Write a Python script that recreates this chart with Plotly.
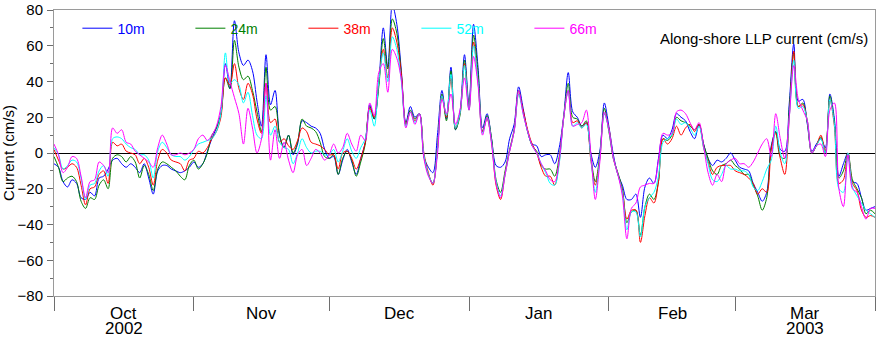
import pandas as pd
import plotly.graph_objects as go

# Daily along-shore current (cm/s) at five depths, 1 Oct 2002 - 1 Apr 2003
start_date = "2002-10-01"

u_10m = [
    -6, -8, -16, -19, -15, -17, -25, -26, -22, -24, -14, -13, -9, -4, -3, -6, -8, -6, -8, -11, -6, -14, -23, -10, -7, -7, -9, -10, -11, -10, -8,
    -5, -8, -6, 1, 8, 14, 22, 50, 36, 74, 56, 49, 52, 46, 29, 15, 55, 27, 35, 10, 3, 10, -1, 5, 18, 17, 15, 14, 11, 2,
    -3, -2, -12, -4, 2, -5, -12, -3, 6, 27, 19, 39, 70, 48, 83, 72, 46, 17, 26, 20, 22, -2, -8, -11, 10, 35, 19, 48, 13, 23, 55,
    27, 72, 48, 14, 22, 8, -7, -8, -5, 8, 16, 37, 25, 12, 5, 4, -2, -1, -1, -6, 3, 21, 45, 23, 20, 15, 17, 0, -8, 1, 28,
    15, -1, -12, -18, -26, -26, -23, -36, -19, -14, -17, -3, 10, 8, 13, 22, 20, 18, 12, 8, 16, 5, -3, -7, -4, -5, -3, 0,
    -4, -8, -9, -10, -17, -22, -27, -22, 4, 12, 2, 1, 28, 61, 29, 30, 16, 1, 5, 8, 3, 33, 19, -13, -6, 0, -16, -17, -25, -32, -31, -30,
]
u_24m = [
    -2, -8, -16, -14, -13, -16, -27, -31, -25, -26, -18, -15, -20, -3, -1, -2, -5, -2, -5, -14, -7, -12, -21, -9, -5, -6, -8, -10, -13, -15, -7,
    -4, -9, -6, 0, 10, 14, 22, 42, 36, 63, 48, 41, 43, 35, 23, 12, 48, 24, 26, 10, 3, 10, 0, 6, 19, 15, 14, 12, 6, -2,
    -3, -1, -12, -3, 1, -4, -13, -5, 5, 26, 19, 37, 64, 47, 75, 67, 44, 16, 24, 19, 22, -2, -12, -17, 2, 33, 18, 46, 13, 21, 52,
    25, 66, 45, 12, 21, 8, -15, -22, -10, 2, 13, 35, 23, 12, 4, 1, -7, -9, -9, -13, -2, 20, 39, 20, 19, 15, 18, -2, -16, -1, 25,
    12, -3, -11, -20, -39, -33, -32, -46, -30, -23, -26, -16, 8, 7, 10, 20, 18, 17, 15, 13, 16, 5, -3, -10, -12, -7, -6, -4,
    -7, -9, -12, -12, -18, -24, -32, -25, 3, 12, -2, -3, 25, 56, 26, 28, 17, 0, 4, 9, 0, 32, 17, -14, -10, 0, -15, -20, -25, -34, -32, -34,
]
u_38m = [
    2, -4, -9, -8, -6, -8, -18, -29, -20, -19, -12, -10, -17, 6, 4, 5, 1, 0, -1, -6, -3, -8, -18, -4, 2, 0, -4, -5, -6, -10, -4,
    -3, 1, 0, 3, 8, 12, 20, 42, 38, 50, 36, 30, 39, 33, 19, 11, 39, 17, 19, 6, 8, 4, 2, 7, 14, 12, 6, 5, 4, 2,
    -1, -1, -9, 0, 1, -3, -9, -3, 6, 25, 20, 40, 58, 42, 70, 62, 44, 16, 23, 18, 22, 0, -11, -18, 2, 32, 20, 42, 14, 22, 50,
    24, 62, 40, 12, 19, 6, -18, -26, -12, 1, 12, 33, 24, 13, 5, 0, -8, -13, -13, -18, -5, 20, 35, 17, 18, 14, 17, -4, -18, -3, 22,
    14, -3, -12, -21, -37, -32, -32, -50, -35, -25, -28, -16, 8, 5, 8, 15, 10, 14, 16, 12, 16, 3, -5, -12, -8, -7, -7, -7,
    -10, -11, -12, -14, -17, -23, -20, -22, 2, 11, -3, -12, 20, 57, 26, 27, 18, 0, 4, 10, 1, 30, 15, -17, -15, 0, -17, -21, -32, -36, -35, -36,
]
u_52m = [
    3, -1, -9, -7, -4, -5, -14, -26, -18, -17, -10, -7, -13, 8, 9, 8, 5, 3, 2, -1, -1, -4, -14, 1, 6, 3, -1, -2, -2, -4, -2,
    2, 5, 6, 7, 8, 12, 22, 56, 39, 41, 38, 28, 34, 21, 10, 8, 32, 10, 15, 6, 3, 2, -6, 0, 8, 3, 0, 1, 1, -1,
    -1, 2, -5, 1, 8, 1, -3, 3, 8, 24, 15, 40, 56, 40, 65, 58, 40, 15, 23, 17, 22, -1, -12, -17, 1, 32, 21, 44, 14, 22, 49,
    24, 60, 40, 11, 20, 6, -16, -24, -12, 1, 12, 33, 22, 12, 4, 0, -6, -11, -17, -18, -6, 20, 35, 15, 17, 14, 16, -3, -22, -3, 22,
    13, -3, -12, -22, -43, -33, -33, -47, -30, -25, -22, -13, 6, 8, 10, 19, 16, 17, 14, 10, 15, 3, -6, -15, -16, -12, -7, -9,
    -9, -10, -10, -12, -19, -21, -16, -9, -4, 15, 0, -6, 20, 52, 25, 26, 18, 0, 4, 8, 0, 30, 16, -20, -22, 0, -19, -24, -28, -32, -34, -36,
]
u_66m = [
    5, -1, -11, -8, -2, -3, -13, -25, -16, -15, -5, -7, -11, 14, 11, 13, 6, 5, 1, -1, -3, -5, -8, 3, 10, 5, -1, -1, 0, -1, 0,
    2, 8, 10, 7, 10, 15, 26, 49, 40, 31, 22, 5, 25, 14, 0, 8, 39, -4, 13, -3, 6, -4, -11, -1, 2, -7, -3, 2, 0, -4,
    -1, 5, 0, 3, 11, 5, 1, 10, 7, 28, 21, 45, 50, 34, 58, 53, 41, 14, 23, 16, 22, -3, -13, -17, -1, 30, 22, 33, 16, 24, 42,
    24, 54, 38, 10, 20, 5, -17, -25, -12, 1, 12, 35, 22, 12, 4, 0, -6, -10, -15, -16, -4, 20, 35, 15, 16, 17, 24, 0, -26, -5, 23,
    13, -3, -12, -24, -48, -31, -28, -19, -18, -17, -17, -4, 11, 10, 11, 23, 24, 22, 17, 13, 17, 4, -11, -18, -12, -16, -6, -4,
    -3, -6, -6, -8, -5, 0, 5, 8, -2, 22, 8, -3, 20, 49, 30, 24, 18, 0, 4, 5, -2, 24, 28, -20, -30, -1, -20, -22, -30, -37, -31, -31,
]

series_names = ["10m", "24m", "38m", "52m", "66m"]
series_colors = ["#0000ff", "#008000", "#ff0000", "#00ffff", "#ff00ff"]
series_values = [u_10m, u_24m, u_38m, u_52m, u_66m]

month_labels = ["Oct", "Nov", "Dec", "Jan", "Feb", "Mar"]
year_labels = ["2002", "", "", "", "", "2003"]

FONT = "Liberation Sans, Arial, Helvetica, sans-serif"
FRAME = "#9a9a9a"
TICK = "#6e6e6e"

dates = pd.date_range(start_date, periods=len(u_10m), freq="D")
month_edges = pd.date_range(start_date, "2003-04-01", freq="MS")
month_mids = month_edges[:-1] + (month_edges[1:] - month_edges[:-1]) / 2

fig = go.Figure()
for name, color, vals in zip(series_names, series_colors, series_values):
    fig.add_trace(go.Scatter(
        x=dates, y=vals, mode="lines",
        name=f'<span style="color:{color}">{name}</span>',
        line=dict(color=color, width=1, shape="spline", smoothing=0.9),
        hoverinfo="skip",
    ))

# month names centred in each month, with the year under the first and last
annotations = []
for mid, mon, yr in zip(month_mids, month_labels, year_labels):
    annotations.append(dict(
        x=mid, xref="x", y=-0.058, yref="paper", yanchor="middle", height=16,
        text=mon, showarrow=False, font=dict(family=FONT, size=17, color="black"),
    ))
    if yr:
        annotations.append(dict(
            x=mid, xref="x", y=-0.113, yref="paper", yanchor="middle", height=16,
            text=yr, showarrow=False, font=dict(family=FONT, size=17, color="black"),
        ))
annotations.append(dict(
    x=0.9936, xref="paper", y=0.90, yref="paper", xanchor="right", yanchor="middle",
    text="Along-shore LLP current (cm/s)", showarrow=False,
    font=dict(family=FONT, size=15, color="black"),
))

fig.update_layout(
    width=877, height=338,
    margin=dict(l=54, r=1, t=6, b=42),
    paper_bgcolor="white", plot_bgcolor="white",
    font=dict(family=FONT, color="black"),
    showlegend=True,
    legend=dict(
        orientation="h", x=0.0285, y=0.935, xanchor="left", yanchor="middle",
        bgcolor="rgba(0,0,0,0)", font=dict(family=FONT, size=14),
        entrywidth=68, entrywidthmode="pixels", itemclick=False,
    ),
    annotations=annotations,
    hovermode=False,
)

fig.update_xaxes(
    type="date", range=[month_edges[0], month_edges[-1]],
    tickmode="array", tickvals=month_edges, showticklabels=False,
    ticks="outside", ticklen=14, tickcolor=TICK, tickwidth=1,
    showline=True, linecolor=FRAME, linewidth=1, mirror=True,
    showgrid=False, zeroline=False,
)
fig.update_yaxes(
    range=[-80, 80], tickmode="linear", tick0=0, dtick=20,
    ticks="outside", ticklen=6, tickcolor=TICK, tickwidth=1,
    minor=dict(dtick=10, ticks="outside", ticklen=3, tickcolor=TICK),
    tickfont=dict(family=FONT, size=15, color="black"),
    ticklabelstandoff=1, ticklabeloverflow="allow",
    showline=True, linecolor=FRAME, linewidth=1, mirror=True,
    showgrid=False, zeroline=True, zerolinecolor="black", zerolinewidth=1,
    title=dict(text="Current (cm/s)", font=dict(family=FONT, size=15, color="black"), standoff=2),
)

fig.write_html("out.html")
